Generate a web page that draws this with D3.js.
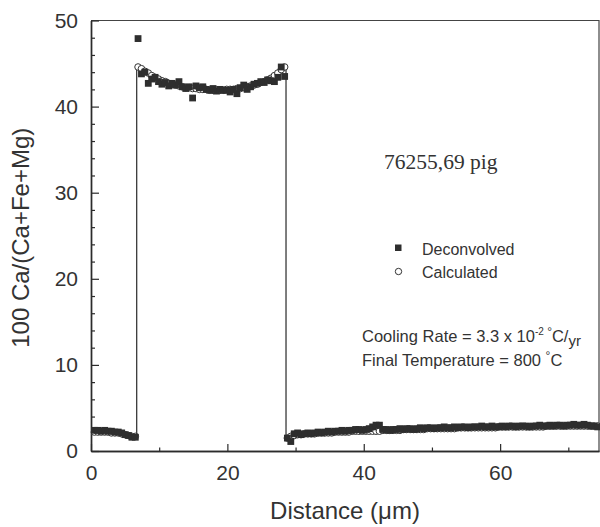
<!DOCTYPE html>
<html>
<head>
<meta charset="utf-8">
<script src="https://cdn.jsdelivr.net/npm/d3@7/dist/d3.min.js"></script>
<style>
  html, body { margin: 0; padding: 0; background: #fff; }
  svg { display: block; }
  text { font-family: "Liberation Sans", Arial, Helvetica, sans-serif; fill: #333; }
</style>
</head>
<body>
<svg id="chart" width="600" height="527"></svg>
<script>
// Microprobe traverse: distance (µm) and 100 Ca/(Ca+Fe+Mg)
const distance = [
  0.5, 1.0, 1.5, 2.0, 2.5, 3.0, 3.5, 4.0, 4.5, 5.0, 5.5, 6.0, 6.5,
  6.9, 7.4, 7.9, 8.4, 8.9, 9.4, 9.9, 10.4, 10.9, 11.4, 11.9, 12.4, 12.9, 13.4, 13.9, 14.4,
  14.9, 15.4, 15.9, 16.4, 16.9, 17.4, 17.9, 18.4, 18.9, 19.4, 19.9, 20.4, 20.9, 21.4,
  21.9, 22.4, 22.9, 23.4, 23.9, 24.4, 24.9, 25.4, 25.9, 26.4, 26.9, 27.4, 27.9, 28.4,
  28.8, 29.3, 29.8, 30.3, 30.8, 31.3, 31.8, 32.3, 32.8, 33.3, 33.8, 34.3, 34.8, 35.3,
  35.8, 36.3, 36.8, 37.3, 37.8, 38.3, 38.8, 39.3, 39.8, 40.3, 40.8, 41.3, 41.8, 42.3,
  42.8, 43.3, 43.8, 44.3, 44.8, 45.3, 45.8, 46.3, 46.8, 47.3, 47.8, 48.3, 48.8, 49.3,
  49.8, 50.3, 50.8, 51.3, 51.8, 52.3, 52.8, 53.3, 53.8, 54.3, 54.8, 55.3, 55.8, 56.3,
  56.8, 57.3, 57.8, 58.3, 58.8, 59.3, 59.8, 60.3, 60.8, 61.3, 61.8, 62.3, 62.8, 63.3,
  63.8, 64.3, 64.8, 65.3, 65.8, 66.3, 66.8, 67.3, 67.8, 68.3, 68.8, 69.3, 69.8, 70.3,
  70.8, 71.3, 71.8, 72.3, 72.8, 73.3, 73.8, 74.3
];

const deconvolved = [
  2.4, 2.4, 2.3, 2.4, 2.3, 2.3, 2.2, 2.2, 2.1, 1.9, 1.8, 1.6, 1.6,
  47.9, 43.8, 44.0, 42.7, 43.2, 43.4, 42.9, 42.6, 42.8, 42.4, 42.7, 42.5, 42.9, 42.3, 42.1, 42.3,
  41.0, 42.4, 42.2, 42.3, 42.0, 41.9, 42.1, 41.8, 42.0, 41.9, 41.9, 41.7, 42.0, 41.5,
  42.2, 42.5, 42.0, 42.3, 42.6, 42.7, 42.9, 42.8, 43.1, 43.0, 42.9, 43.4, 44.6, 43.5,
  1.5, 1.1, 2.0, 2.1, 1.9, 2.0, 2.1, 2.0, 2.1, 2.2, 2.1, 2.2, 2.3, 2.2,
  2.3, 2.3, 2.4, 2.3, 2.4, 2.4, 2.5, 2.5, 2.4, 2.5, 2.6, 2.8, 3.0, 3.0,
  2.5, 2.5, 2.4, 2.5, 2.5, 2.6, 2.5, 2.6, 2.6, 2.5, 2.6, 2.7, 2.6, 2.7,
  2.7, 2.6, 2.7, 2.7, 2.8, 2.7, 2.7, 2.8, 2.7, 2.8, 2.8, 2.7, 2.8, 2.8,
  2.8, 2.9, 2.8, 2.8, 2.9, 2.8, 2.8, 2.9, 2.8, 2.9, 2.9, 2.8, 2.9, 2.9,
  2.9, 2.8, 2.9, 2.9, 3.0, 2.9, 2.9, 3.0, 2.9, 3.0, 3.0, 2.9, 3.0, 3.0,
  3.1, 3.0, 3.0, 3.1, 3.0, 2.9, 2.9, 2.8
];

const calculated = [
  2.2, 2.2, 2.2, 2.2, 2.2, 2.1, 2.1, 2.1, 2.0, 1.9, 1.8, 1.7, 1.7,
  44.6, 44.4, 44.1, 43.9, 43.6, 43.4, 43.2, 43.0, 42.9, 42.7, 42.6, 42.5, 42.4, 42.3, 42.2, 42.2,
  42.1, 42.1, 42.0, 42.0, 42.0, 41.9, 41.9, 41.9, 41.9, 41.9, 42.0, 42.0, 42.0, 42.1,
  42.1, 42.2, 42.3, 42.4, 42.5, 42.6, 42.8, 42.9, 43.1, 43.3, 43.6, 43.9, 44.3, 44.6,
  1.5, 1.7, 1.8, 1.9, 1.9, 2.0, 2.0, 2.0, 2.0, 2.1, 2.1, 2.1, 2.1, 2.1,
  2.2, 2.2, 2.2, 2.2, 2.2, 2.3, 2.3, 2.3, 2.3, 2.3, 2.3, 2.3, 2.3, 2.3,
  2.4, 2.4, 2.4, 2.4, 2.4, 2.4, 2.5, 2.5, 2.5, 2.5, 2.5, 2.5, 2.5, 2.6,
  2.6, 2.6, 2.6, 2.6, 2.6, 2.6, 2.6, 2.6, 2.7, 2.7, 2.7, 2.7, 2.7, 2.7,
  2.7, 2.7, 2.7, 2.7, 2.7, 2.7, 2.8, 2.8, 2.8, 2.8, 2.8, 2.8, 2.8, 2.8,
  2.8, 2.8, 2.8, 2.8, 2.8, 2.8, 2.9, 2.9, 2.9, 2.9, 2.9, 2.9, 2.9, 2.9,
  2.9, 2.9, 2.9, 2.9, 2.9, 2.9, 2.9, 2.9
];

const xMajorTicks = [0, 20, 40, 60];
const xMinorTicks = [10, 30, 50, 70];
const yMajorTicks = [0, 10, 20, 30, 40, 50];
const yMinorTicks = [2, 4, 6, 8, 12, 14, 16, 18, 22, 24, 26, 28, 32, 34, 36, 38, 42, 44, 46, 48];

const legendItems = ["Deconvolved", "Calculated"];
const sampleLabel = "76255,69 pig";

const svg = d3.select("#chart");
const ink = "#2b2b2b";

const x = d3.scaleLinear().domain([0, 74.5]).range([91, 599]);
const y = d3.scaleLinear().domain([0, 50]).range([451, 20.5]);

const rows = distance.map((d, i) => ({ d, dec: deconvolved[i], cal: calculated[i] }));

// frame: top and right edges
svg.append("path")
  .attr("d", `M${x(0)},${y(50)}H${x(74.5)}V${y(0)}`)
  .attr("fill", "none").attr("stroke", "#444").attr("stroke-width", 1.2);

// axes with inward ticks
function styleAxis(g) {
  g.select(".domain").attr("stroke", ink).attr("stroke-width", 1.4);
  g.selectAll(".tick line").attr("stroke", ink).attr("stroke-width", 1.2);
  g.selectAll("text").attr("fill", "#484848").style("font-size", "21px")
    .style("font-family", "'Liberation Sans', Arial, sans-serif");
}

svg.append("g").attr("transform", `translate(0,${y(0)})`)
  .call(d3.axisBottom(x).tickValues(xMinorTicks).tickFormat("").tickSizeInner(-3.5).tickSizeOuter(0))
  .call(styleAxis);
svg.append("g").attr("transform", `translate(0,${y(0)})`)
  .call(d3.axisBottom(x).tickValues(xMajorTicks).tickFormat(d3.format("d")).tickSizeInner(-7).tickSizeOuter(0).tickPadding(14))
  .call(styleAxis);

svg.append("g").attr("transform", `translate(${x(0)},0)`)
  .call(d3.axisLeft(y).tickValues(yMinorTicks).tickFormat("").tickSizeInner(-4).tickSizeOuter(0))
  .call(styleAxis);
svg.append("g").attr("transform", `translate(${x(0)},0)`)
  .call(d3.axisLeft(y).tickValues(yMajorTicks).tickFormat(d3.format("d")).tickSizeInner(-8).tickSizeOuter(0).tickPadding(13))
  .call(styleAxis);

// axis titles
svg.append("text")
  .attr("x", (x(0) + x(74.5)) / 2).attr("y", 519)
  .attr("text-anchor", "middle")
  .style("font-size", "24px")
  .text("Distance (μm)");

svg.append("text")
  .attr("transform", `translate(29,${(y(0) + y(50)) / 2 + 2}) rotate(-90)`)
  .attr("text-anchor", "middle")
  .style("font-size", "24px")
  .text("100 Ca/(Ca+Fe+Mg)");

// calculated profile line
svg.append("path")
  .datum(rows)
  .attr("fill", "none")
  .attr("stroke", "#3a3a3a")
  .attr("stroke-width", 1.3)
  .attr("d", d3.line().x(r => x(r.d)).y(r => y(r.cal)).curve(d3.curveStep));

// calculated: open circles
svg.append("g").selectAll("circle")
  .data(rows).join("circle")
  .attr("cx", r => x(r.d)).attr("cy", r => y(r.cal))
  .attr("r", 3.3)
  .attr("fill", "#fff").attr("stroke", "#333").attr("stroke-width", 1);

// deconvolved: filled squares
const sq = 6.8;
svg.append("g").selectAll("rect")
  .data(rows).join("rect")
  .attr("x", r => x(r.d) - sq / 2).attr("y", r => y(r.dec) - sq / 2)
  .attr("width", sq).attr("height", sq)
  .attr("fill", "#2e2e2e");

// sample label
svg.append("text")
  .attr("x", 384).attr("y", 169)
  .style("font-family", "'Liberation Serif', 'Times New Roman', serif")
  .style("font-size", "21.5px")
  .attr("fill", "#222")
  .text(sampleLabel);

// legend
const legend = svg.append("g");
legend.append("rect").attr("x", 395).attr("y", 244.5).attr("width", 6.5).attr("height", 6.5).attr("fill", "#2e2e2e");
legend.append("circle").attr("cx", 398.5).attr("cy", 271.5).attr("r", 3.2)
  .attr("fill", "#fff").attr("stroke", "#333").attr("stroke-width", 1);
legend.selectAll("text.lg").data(legendItems).join("text")
  .attr("class", "lg")
  .attr("x", 422).attr("y", (d, i) => 254.5 + i * 23.5)
  .style("font-size", "16px")
  .attr("fill", "#222")
  .text(d => d);

// run conditions
const cond = svg.append("g").style("font-size", "16.5px");
const t1 = cond.append("text").attr("x", 362).attr("y", 341.5).attr("fill", "#222");
t1.append("tspan").text("Cooling Rate = 3.3 x 10");
t1.append("tspan").attr("dy", -7).style("font-size", "10px").text("-2");
t1.append("tspan").attr("dy", 1).style("font-size", "12px").text(" °");
t1.append("tspan").attr("dy", 6).text("C/");
t1.append("tspan").attr("dy", 4).style("font-size", "15px").text("yr");

const t2 = cond.append("text").attr("x", 362).attr("y", 365.5).attr("fill", "#222");
t2.append("tspan").text("Final Temperature = 800 ");
t2.append("tspan").attr("dy", -6).style("font-size", "12px").text("°");
t2.append("tspan").attr("dy", 6).text("C");
</script>
</body>
</html>
